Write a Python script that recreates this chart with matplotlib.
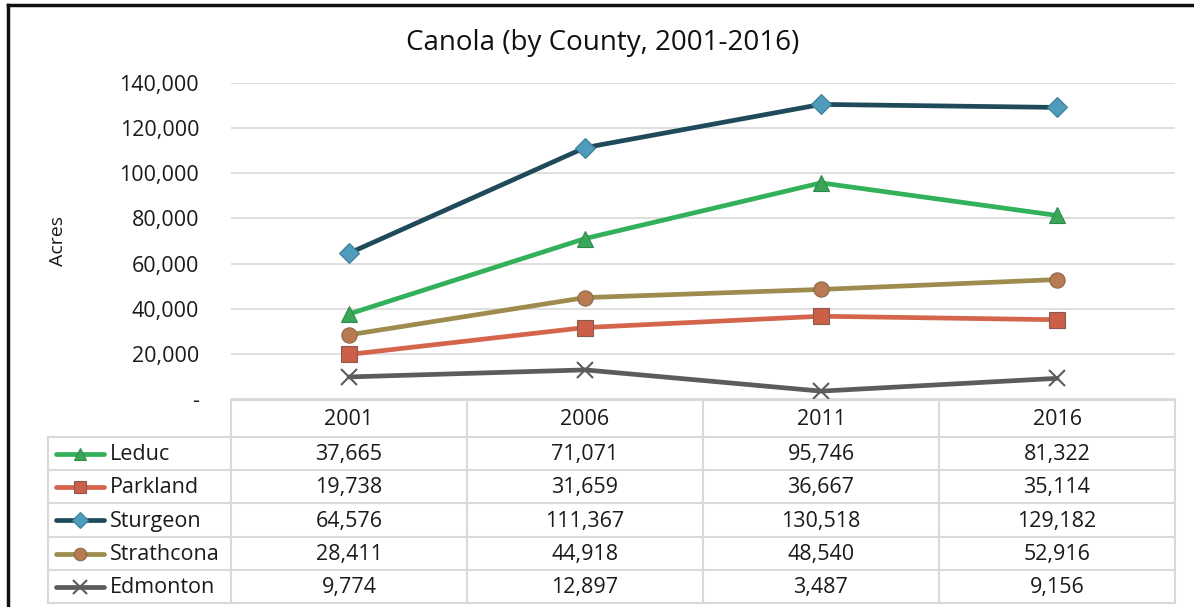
import matplotlib.pyplot as plt
from matplotlib.lines import Line2D

plt.rcParams['font.family'] = ['Open Sans', 'DejaVu Sans']

years = ['2001', '2006', '2011', '2016']
counties = ['Leduc', 'Parkland', 'Sturgeon', 'Strathcona', 'Edmonton']
leduc = [37665, 71071, 95746, 81322]
parkland = [19738, 31659, 36667, 35114]
sturgeon = [64576, 111367, 130518, 129182]
strathcona = [28411, 44918, 48540, 52916]
edmonton = [9774, 12897, 3487, 9156]
yticks = [0, 20000, 40000, 60000, 80000, 100000, 120000, 140000]

series = [leduc, parkland, sturgeon, strathcona, edmonton]
# line colour, marker, marker face, marker edge
styles = [
    ('#33b05a', '^', '#3aa65a', '#2e8a4a'),
    ('#d4654c', 's', '#cb5f48', '#8a5a50'),
    ('#1e4a5a', 'D', '#4e9bbb', '#3d7f99'),
    ('#9e8c4e', 'o', '#b87a50', '#8a6a4a'),
    ('#5c5c5c', 'x', '#5c5c5c', '#5c5c5c'),
]

W, H = 1194, 607
fig = plt.figure(figsize=(W / 100, H / 100), dpi=100)

def px_box(left, top, right, bottom):
    return [left / W, 1 - bottom / H, (right - left) / W, (bottom - top) / H]

txt_c = '#1a1a1a'
grid_c = '#d9d9d9'
fs = 15.5

ax = fig.add_axes(px_box(231, 83, 1175, 399))
x = range(len(years))
for vals, (lc, mk, mf, me) in zip(series, styles):
    if mk == 'x':
        ax.plot(x, vals, color=lc, lw=3.4, marker=mk, ms=12, mew=1.5,
                mec=me, zorder=3, solid_capstyle='round')
    else:
        ax.plot(x, vals, color=lc, lw=3.4, marker=mk, ms=11 if mk != 'D' else 10,
                mfc=mf, mec=me, mew=0.8, zorder=3, solid_capstyle='round')

ax.set_xlim(-0.5, len(years) - 0.5)
ax.set_ylim(0, 140000)
ax.set_yticks(yticks)
ax.set_yticklabels(['-'] + [f'{v:,}' for v in yticks[1:]], fontsize=fs, color=txt_c)
ax.tick_params(axis='y', length=0, pad=23)
ax.set_xticks([])
ax.grid(axis='y', color=grid_c, lw=1.2)
ax.set_axisbelow(True)
for s in ax.spines.values():
    s.set_visible(False)
ax.set_ylabel('Acres', fontsize=14, color=txt_c, labelpad=38)

fig.text(603 / W, 1 - 43 / H, 'Canola (by County, 2001-2016)', ha='center',
         va='center', fontsize=20, color='#111111')

# data table under the chart, laid out in pixel coordinates
tab = fig.add_axes([0, 0, 1, 1])
tab.set_xlim(0, W)
tab.set_ylim(H, 0)
tab.axis('off')

cols = [48, 231, 467, 703, 939, 1175]
rows = [400, 437, 470, 503, 537, 570, 603]
tab.plot([231, 1175], [rows[0], rows[0]], color=grid_c, lw=1.5)
for r in rows[1:]:
    tab.plot([48, 1175], [r, r], color=grid_c, lw=1.5)
tab.plot([48, 48], [rows[1], rows[-1]], color=grid_c, lw=1.5)
for c in cols[1:]:
    tab.plot([c, c], [rows[0], rows[-1]], color=grid_c, lw=1.5)

for j, yr in enumerate(years):
    cx = (cols[j + 1] + cols[j + 2]) / 2
    tab.text(cx, (rows[0] + rows[1]) / 2 + 1, yr, ha='center', va='center',
             fontsize=fs, color=txt_c)

for i, (name, vals, (lc, mk, mf, me)) in enumerate(zip(counties, series, styles)):
    cy = (rows[i + 1] + rows[i + 2]) / 2
    tab.add_line(Line2D([56, 104], [cy, cy], color=lc, lw=3.4, solid_capstyle='round'))
    if mk == 'x':
        tab.plot([80], [cy], marker=mk, ms=10, mew=1.5, color=me)
    else:
        tab.plot([80], [cy], marker=mk, ms=9 if mk != 'D' else 8, mfc=mf, mec=me, mew=0.8)
    tab.text(110, cy + 1, name, ha='left', va='center', fontsize=fs, color=txt_c)
    for j, v in enumerate(vals):
        cx = (cols[j + 1] + cols[j + 2]) / 2
        tab.text(cx, cy + 1, f'{v:,}', ha='center', va='center', fontsize=fs, color=txt_c)

# outer frame (left and top edges)
tab.plot([8, 8], [5, H], color='#111111', lw=2.5)
tab.plot([8, W], [5, 5], color='#111111', lw=2.5)

fig.savefig('out.png', dpi=100)
